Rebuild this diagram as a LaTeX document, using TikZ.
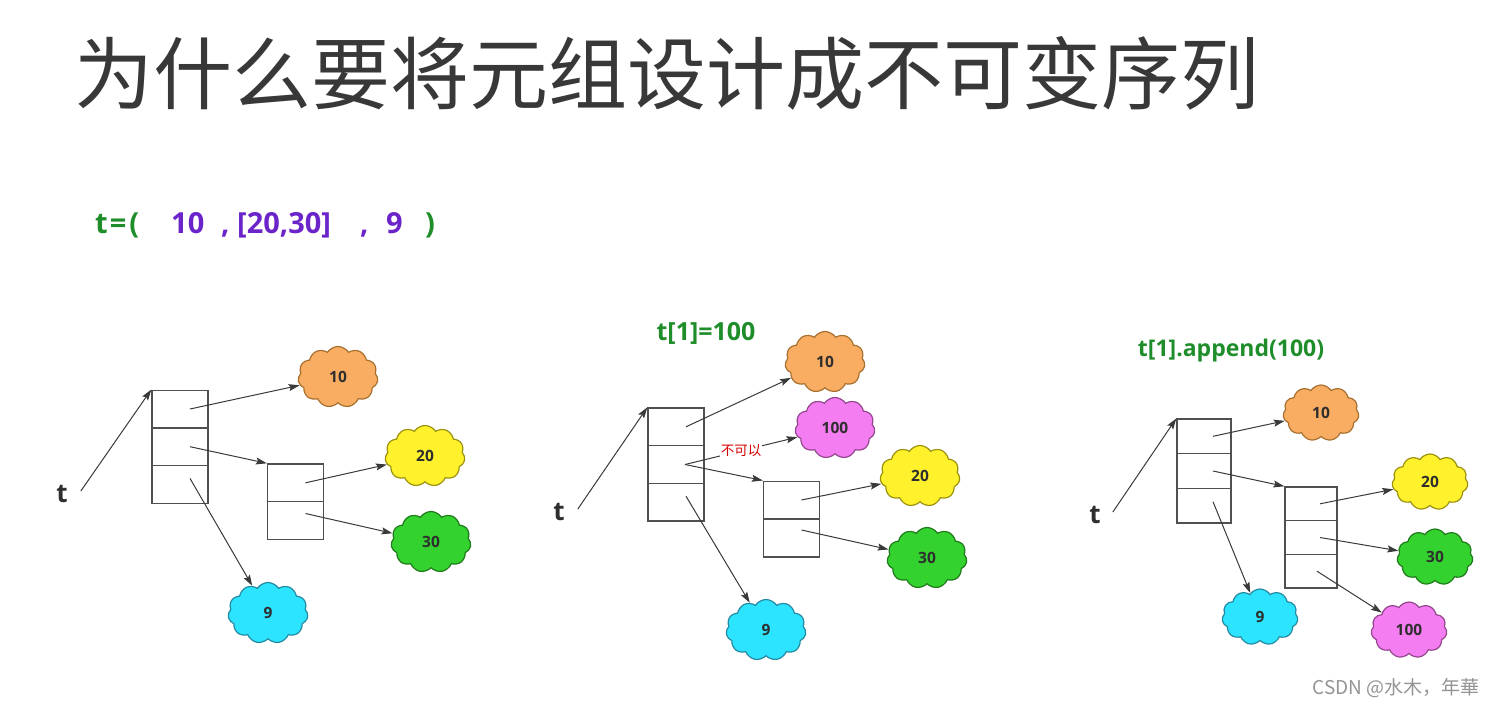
\documentclass[tikz,border=0pt]{standalone}
\usepackage{fontspec}
\setmainfont{Open Sans}
\newfontfamily\cjk{Noto Sans CJK SC}
\usetikzlibrary{shapes.symbols,arrows.meta}
\definecolor{cOrange}{HTML}{F8AD62}\definecolor{bOrange}{HTML}{A8702F}
\definecolor{cYellow}{HTML}{FFF22C}\definecolor{bYellow}{HTML}{9C920E}
\definecolor{cGreen}{HTML}{34D22F}\definecolor{bGreen}{HTML}{1F7A1A}
\definecolor{cCyan}{HTML}{2CE4FF}\definecolor{bCyan}{HTML}{248AA2}
\definecolor{cPink}{HTML}{F47DF1}\definecolor{bPink}{HTML}{94468F}
\definecolor{codegreen}{HTML}{1F8E2A}
\definecolor{codepurple}{HTML}{6B24C9}
\definecolor{linec}{HTML}{3A3A3A}
\definecolor{cellc}{HTML}{505050}
\definecolor{txtc}{HTML}{2E2E2E}
\tikzset{
  cell/.style={draw=cellc, line width=1.3pt, minimum width=56pt, minimum height=37.7pt, inner sep=0pt},
  cellS/.style={cell, minimum width=54pt, minimum height=34.6pt},
  blob/.style={cloud, cloud puffs=11, cloud puff arc=115, aspect=1.3, minimum width=80pt, minimum height=61pt,
    line width=1.2pt, inner sep=0pt, font=\fontsize{15.5}{15.5}\selectfont\bfseries, text=txtc},
  blobS/.style={blob, minimum width=76pt, minimum height=56pt},
  orange/.style={fill=cOrange, draw=bOrange},
  yellow/.style={fill=cYellow, draw=bYellow},
  green/.style={fill=cGreen, draw=bGreen},
  cyan/.style={fill=cCyan, draw=bCyan},
  pink/.style={fill=cPink, draw=bPink},
  ptr/.style={draw=linec, line width=1pt, -{Stealth[length=11pt,width=7pt,inset=2pt]}},
  tlab/.style={inner sep=0pt, font=\fontsize{26}{26}\selectfont\bfseries, text=txtc},
  code/.style={inner sep=0pt, anchor=base west, font=\fontsize{29}{29}\selectfont\bfseries},
  op/.style={inner sep=0pt, font=\fontsize{23}{23}\selectfont\bfseries, text=codegreen},
}
\begin{document}
\begin{tikzpicture}[x=1pt,y=-1pt]
\useasboundingbox[fill=white] (0,0) rectangle (1496,707);

% title
\node[inner sep=0pt, text=black!78, font=\cjk\fontsize{79}{79}\selectfont] (title) at (667,73) {为什么要将元组设计成不可变序列};

% code line
\node[code, text=codegreen] (c1) at (95,233) {t\kern2pt=\kern3pt(};
\node[code, text=codepurple] (c2) at (171,233) {10};
\node[code, text=codepurple] (c3) at (221,233) {,};
\node[code, text=codepurple] (c4) at (237,233) {[20,30]};
\node[code, text=codepurple] (c5) at (360,233) {,};
\node[code, text=codepurple] (c6) at (386,233) {9};
\node[code, text=codegreen] (c7) at (425,233) {)};

% ---------- diagram 1 ----------
\node[tlab] (T1) at (62,494) {t};
\node[cell] (A1) at (180,409) {};
\node[cell] (A2) at (180,446.7) {};
\node[cell] (A3) at (180,484.4) {};
\node[cell] (B1) at (295.5,482.8) {};
\node[cell] (B2) at (295.5,520.5) {};
\node[blob, orange] (P10) at (338,377) {10};
\node[blob, yellow] (P20) at (425,456) {20};
\node[blob, green] (P30) at (431,542) {30};
\node[blob, cyan] (P9) at (268,613) {9};
\draw[ptr] ([xshift=13pt,yshift=3pt]T1.east) -- (A1.north west);
\draw[ptr] ([xshift=10pt]A1.center) -- (P10);
\draw[ptr] ([xshift=10pt]A2.center) -- (B1.north west);
\draw[ptr] ([shift={(10,-6)}]A3.center) -- (P9);
\draw[ptr] ([xshift=10pt]B1.center) -- (P20);
\draw[ptr] ([shift={(10,-7)}]B2.center) -- (P30);

% ---------- diagram 2 ----------
\node[op, font=\fontsize{25}{25}\selectfont\bfseries] (op2) at (706,333) {t[1]=100};
\node[tlab] (T2) at (559,512) {t};
\node[cell] (D1) at (676,426.8) {};
\node[cell] (D2) at (676,464.5) {};
\node[cell] (D3) at (676,502.2) {};
\node[cell] (E1) at (791.5,500) {};
\node[cell] (E2) at (791.5,538) {};
\node[blob, orange] (Q10) at (825,362) {10};
\node[blob, pink] (Q100) at (835,428) {100};
\node[blob, yellow] (Q20) at (920,476) {20};
\node[blob, green] (Q30) at (927,558) {30};
\node[blob, cyan] (Q9) at (766,630) {9};
\draw[ptr] ([xshift=13pt,yshift=3pt]T2.east) -- (D1.north west);
\draw[ptr] ([xshift=10pt]D1.center) -- (Q10);
\draw[ptr] ([xshift=9pt]D2.center) -- node[pos=0.5, fill=white, inner sep=0.5pt, text=red!85!black, font=\cjk\fontsize{13.5}{13.5}\selectfont] (no) {不可以} (Q100);
\draw[ptr] ([xshift=9pt]D2.center) -- (E1.north west);
\draw[ptr] ([shift={(10,-6)}]D3.center) -- (Q9);
\draw[ptr] ([xshift=10pt]E1.center) -- (Q20);
\draw[ptr] ([shift={(10,-8)}]E2.center) -- (Q30);

% ---------- diagram 3 ----------
\node[op] (op3) at (1231,351) {t[1].append(100)};
\node[tlab] (T3) at (1095,515) {t};
\node[cellS] (F1) at (1204,436.3) {};
\node[cellS] (F2) at (1204,471) {};
\node[cellS] (F3) at (1204,505.7) {};
\node[cellS, minimum width=52pt, minimum height=33.7pt] (G1) at (1311,503.8) {};
\node[cellS, minimum width=52pt, minimum height=33.7pt] (G2) at (1311,537.5) {};
\node[cellS, minimum width=52pt, minimum height=33.7pt] (G3) at (1311,571.2) {};
\node[blobS, orange] (R10) at (1321,413) {10};
\node[blobS, yellow] (R20) at (1430,482) {20};
\node[blobS, green] (R30) at (1435,557) {30};
\node[blobS, pink] (R100) at (1409,630) {100};
\node[blobS, cyan] (R9) at (1260,617) {9};
\draw[ptr] ([xshift=12pt,yshift=3pt]T3.east) -- (F1.north west);
\draw[ptr] ([xshift=9pt]F1.center) -- (R10);
\draw[ptr] ([xshift=9pt]F2.center) -- (G1.north west);
\draw[ptr] ([shift={(9,-4)}]F3.center) -- (R9);
\draw[ptr] ([xshift=9pt]G1.center) -- (R20);
\draw[ptr] ([xshift=9pt]G2.center) -- (R30);
\draw[ptr] ([xshift=6pt]G3.center) -- (R100);

% watermark
\node[inner sep=0pt, text=black!42, font=\cjk\fontsize{19}{19}\selectfont] (wm) at (1396,688) {CSDN @水木，年華};
\end{tikzpicture}
\end{document}
